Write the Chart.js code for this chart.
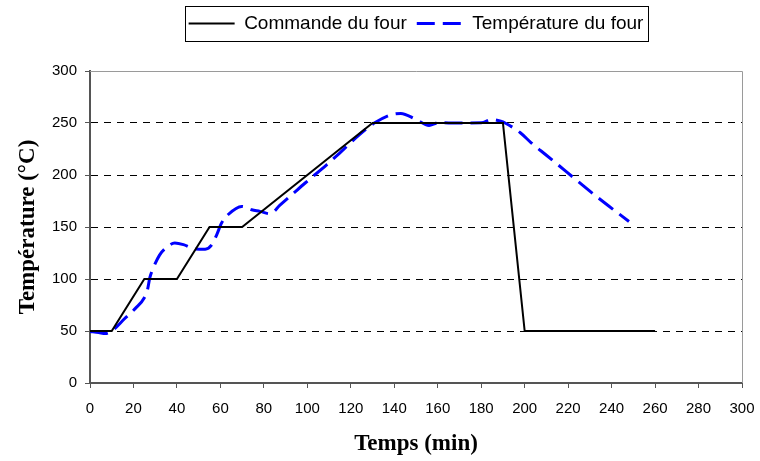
<!DOCTYPE html>
<html>
<head>
<meta charset="utf-8">
<script src="https://cdn.jsdelivr.net/npm/chart.js@4"></script>
<style>
  html, body { margin: 0; padding: 0; background: #fff; }
</style>
</head>
<body>
<canvas id="fourChart" width="760" height="461"></canvas>
<script>
// --- consigne du four (temps en min, température en °C) ---
const commandeTemps = [0, 10, 25, 40, 55, 70, 130, 190, 200, 260];
const commandeVals  = [50, 50, 100, 100, 150, 150, 250, 250, 50, 50];

// --- température mesurée dans le four ---
const fourTemps = [0, 4, 7, 10, 16, 21, 25, 26.5, 27.5, 29, 32, 35, 39, 43, 48, 53, 56, 58.3, 60.6, 63.6, 69.8, 74.4, 78.2, 82.8, 87.4, 92, 99, 109, 115, 124, 131, 138, 143, 150, 156, 160, 170, 180, 185, 189, 191, 198, 203, 210, 219, 233, 248];
const fourVals  = [49.5, 48.5, 47.6, 50, 62, 72, 82, 90, 101, 110, 123, 130, 134.5, 133, 129, 128.7, 132.8, 142.5, 154, 162, 169.8, 166.6, 165, 162.7, 171, 179.4, 192.3, 210, 221.3, 238.9, 250.2, 257.6, 259.2, 253.4, 247.6, 250.2, 250, 250.2, 253.4, 251.7, 250, 240.6, 231, 219, 203.5, 179.4, 155.3];

// --- axes ---
const xMin = 0, xMax = 300, xStep = 20;
const yMin = 0, yMax = 300, yStep = 50;

const toPoints = (xs, ys) => xs.map((x, i) => ({ x: x, y: ys[i] }));

const AXE = '#555555';
const SANS = "'Liberation Sans', Arial, sans-serif";
const SERIF = "'Liberation Serif', 'Times New Roman', serif";

// cadre gris (haut et droite) + cadre de la légende
const cadre = {
  id: 'cadre',
  beforeDatasetsDraw(chart) {
    const { ctx, chartArea: a } = chart;
    ctx.save();
    ctx.strokeStyle = '#9a9a9a';
    ctx.lineWidth = 1;
    ctx.beginPath();
    ctx.moveTo(a.left, Math.round(a.top) + 0.5);
    ctx.lineTo(Math.round(a.right) + 0.5, Math.round(a.top) + 0.5);
    ctx.lineTo(Math.round(a.right) + 0.5, a.bottom);
    ctx.stroke();
    ctx.restore();
  },
  afterDraw(chart) {
    const hb = chart.legend.legendHitBoxes;
    if (!hb || !hb.length) return;
    const left = Math.min(...hb.map(b => b.left)) - 4;
    const right = Math.max(...hb.map(b => b.left + b.width)) + 4;
    const top = Math.min(...hb.map(b => b.top)) - 8;
    const bottom = Math.max(...hb.map(b => b.top + b.height)) + 8;
    const ctx = chart.ctx;
    ctx.save();
    ctx.strokeStyle = '#000';
    ctx.lineWidth = 1;
    ctx.strokeRect(Math.round(left) + 0.5, Math.round(top) + 0.5, Math.round(right - left), Math.round(bottom - top));
    ctx.restore();
  }
};

// la légende reprend le tracé (trait plein / tirets) de chaque série
function legendeLignes(chart) {
  const items = Chart.defaults.plugins.legend.labels.generateLabels(chart);
  items.forEach(it => {
    const ds = chart.data.datasets[it.datasetIndex];
    it.lineDash = ds.borderDash || [];
    it.lineWidth = ds.borderWidth;
    it.strokeStyle = ds.borderColor;
    it.pointStyle = 'line';
  });
  return items;
}

new Chart(document.getElementById('fourChart'), {
  type: 'line',
  data: {
    datasets: [
      { label: 'Commande du four', data: toPoints(commandeTemps, commandeVals),
        borderColor: '#000000', backgroundColor: '#000000', borderWidth: 2,
        pointRadius: 0, tension: 0, fill: false },
      { label: 'Température du four', data: toPoints(fourTemps, fourVals),
        borderColor: '#0000ff', backgroundColor: '#0000ff', borderWidth: 3, borderDash: [18, 8],
        pointRadius: 0, cubicInterpolationMode: 'monotone', fill: false }
    ]
  },
  options: {
    responsive: false,
    animation: false,
    layout: { padding: { top: 4, right: 18, bottom: 0, left: 0 } },
    plugins: {
      legend: {
        display: true, position: 'top', fullSize: false, weight: 3000,
        labels: { usePointStyle: true, pointStyle: 'line', pointStyleWidth: 46, padding: 10,
          color: '#000', font: { family: SANS, size: 19 }, generateLabels: legendeLignes }
      },
      title: { display: true, text: '', font: { size: 10 }, padding: { top: 0, bottom: 16 } },
      tooltip: { enabled: false }
    },
    scales: {
      x: {
        type: 'linear', min: xMin, max: xMax,
        ticks: { stepSize: xStep, color: '#000', padding: 12, maxRotation: 0, font: { family: SANS, size: 15 } },
        grid: { drawOnChartArea: false, drawTicks: true, tickLength: 5, tickColor: AXE },
        border: { color: AXE, width: 2 },
        title: { display: true, text: 'Temps (min)', color: '#000', padding: { top: 0, bottom: 3 },
          font: { family: SERIF, size: 23, weight: 'bold' } },
        afterFit: s => { s.height = 78; s.paddingRight = 13; s.paddingLeft = 13; }
      },
      y: {
        min: yMin, max: yMax,
        ticks: { stepSize: yStep, color: '#000', padding: 8, font: { family: SANS, size: 15 } },
        grid: {
          color: c => (c.tick && (c.tick.value === yMin || c.tick.value === yMax)) ? 'rgba(0,0,0,0)' : '#000',
          lineWidth: 1, tickLength: 5, tickColor: AXE
        },
        border: { color: AXE, width: 2, dash: [7, 6] },
        title: { display: true, text: 'Température (°C)', color: '#000', padding: { top: 14, bottom: 0 },
          font: { family: SERIF, size: 23, weight: 'bold' } },
        afterFit: s => { s.width = 90; }
      }
    }
  },
  plugins: [cadre]
});
</script>
</body>
</html>
